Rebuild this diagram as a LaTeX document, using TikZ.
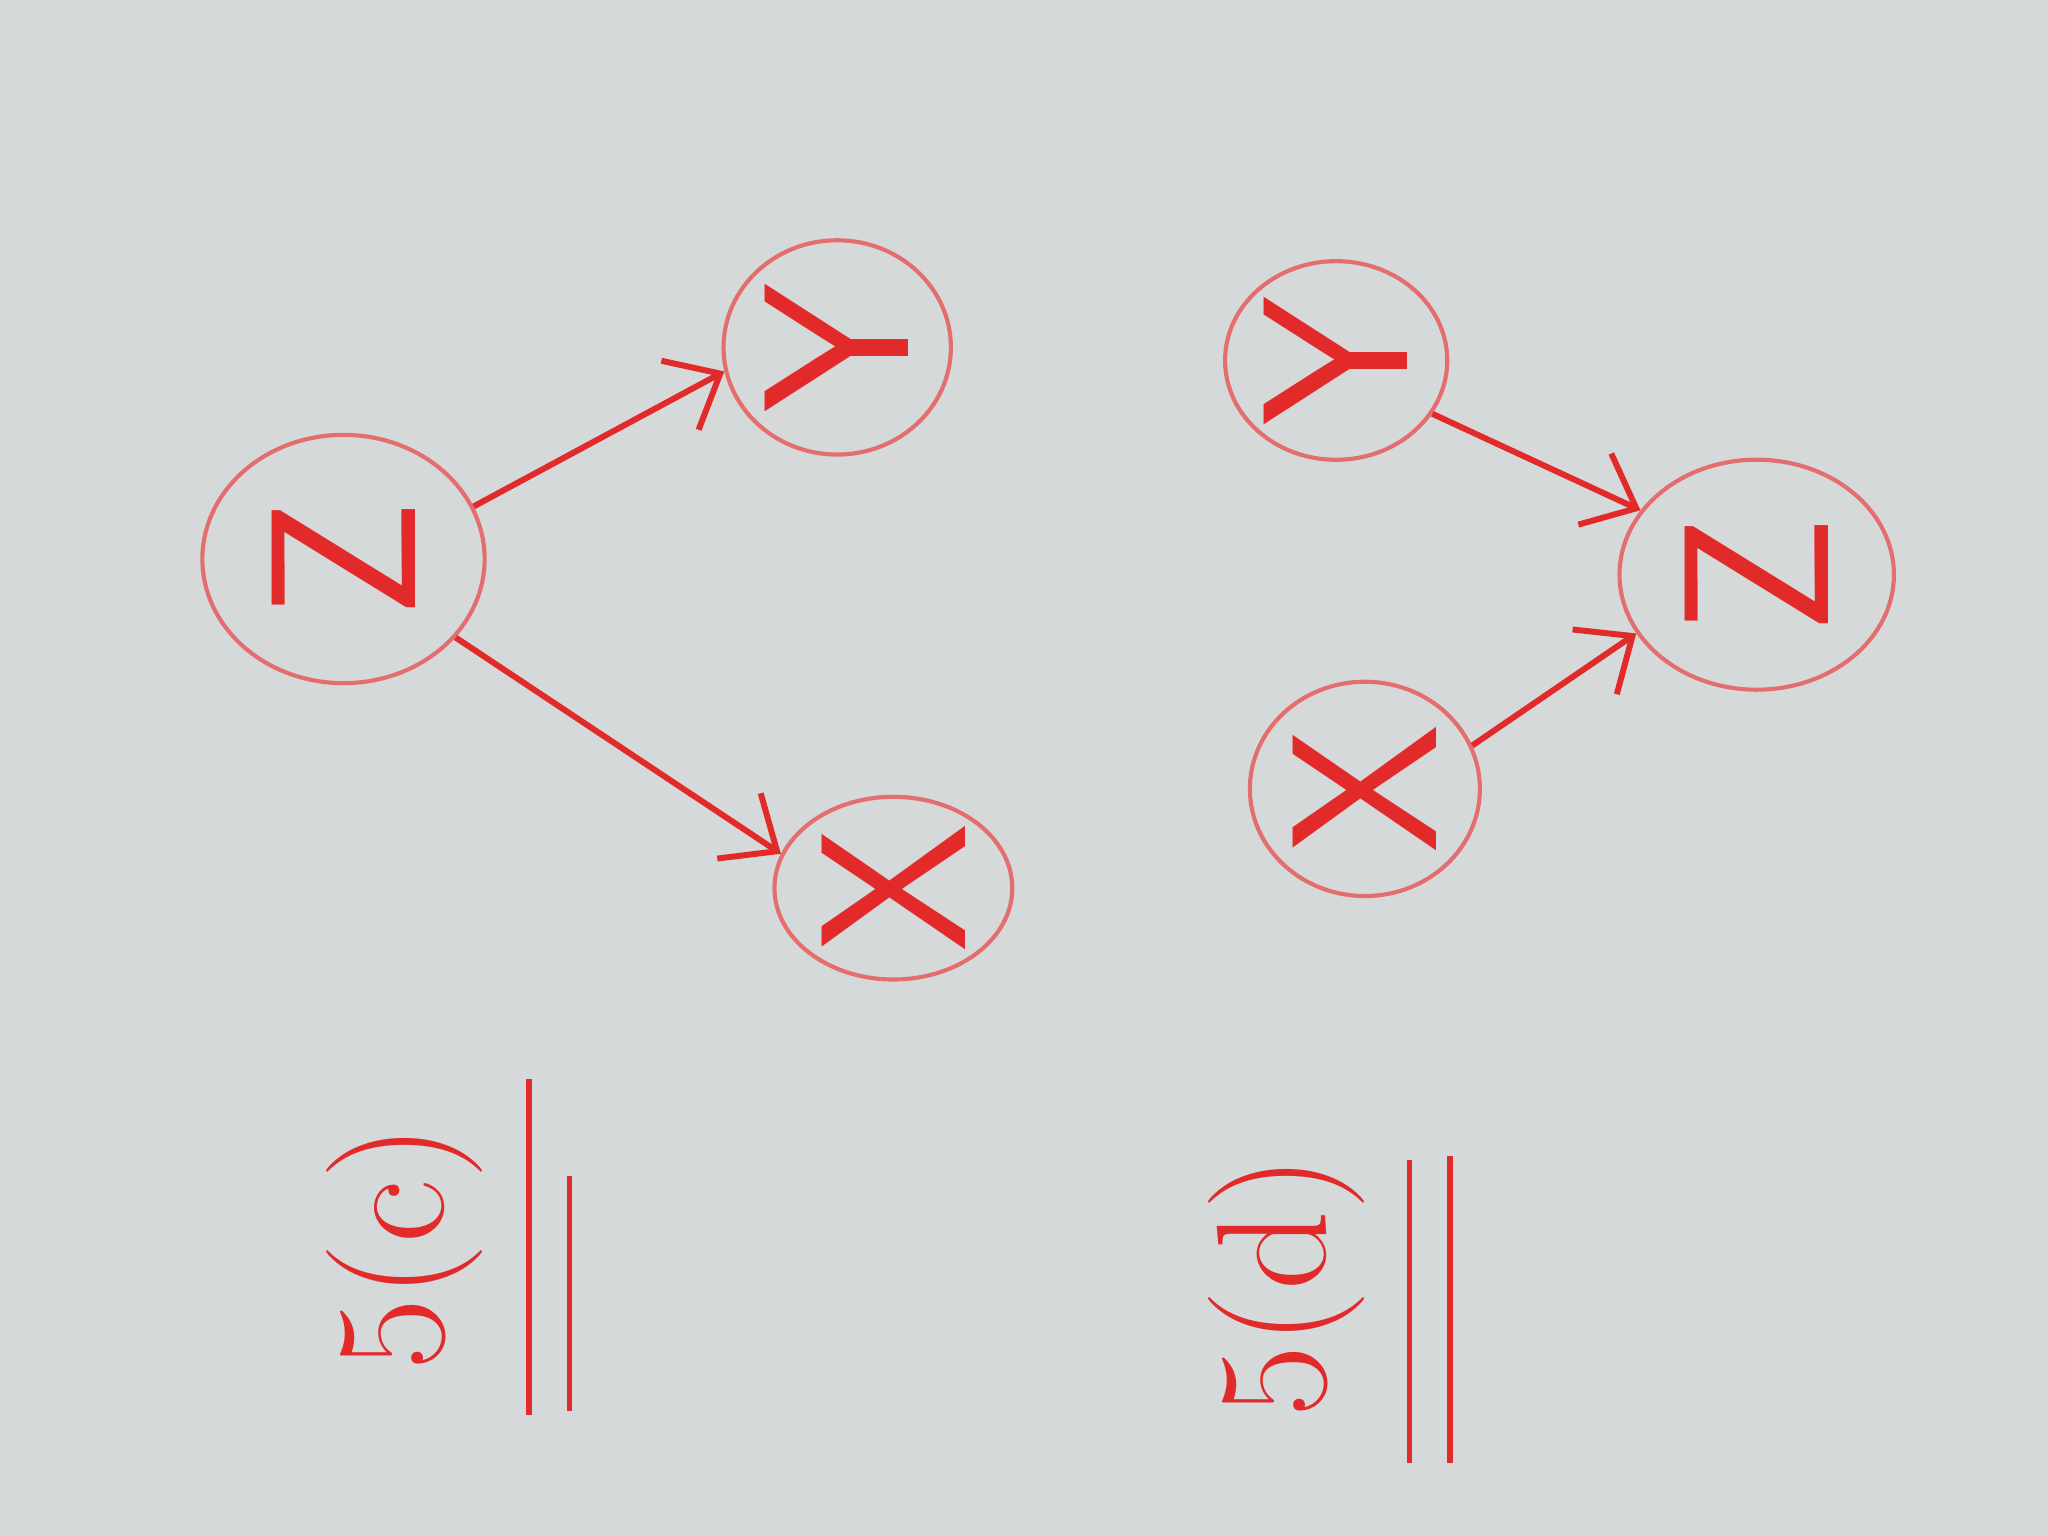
\documentclass[tikz,border=0pt]{standalone}
\usetikzlibrary{shapes.geometric,arrows.meta}
\definecolor{board}{RGB}{214,217,217}
\definecolor{marker}{RGB}{226,42,42}
\definecolor{ring}{RGB}{228,110,110}
\begin{document}
\begin{tikzpicture}[x=0.01cm,y=-0.01cm,
    var/.style={ellipse,draw=ring,line width=0.9pt,inner sep=0pt,text=marker,
      font=\sffamily\fontsize{45}{50}\selectfont},
    edge/.style={draw=marker,line width=1.3pt,
      -{Straight Barb[length=0.35cm,width=0.6cm]}},
    part/.style={rotate=90,text=marker,font=\fontsize{34}{40}\selectfont},
    uline/.style={draw=marker,line width=1.2pt}]
  \fill[board] (0,0) rectangle (1568,1176);

  \node[var,minimum width=2.16cm,minimum height=1.9cm] (zl) at (263,428) {\rotatebox{90}{Z}};
  \node[var,minimum width=1.74cm,minimum height=1.64cm] (yl) at (641,266) {\rotatebox{90}{Y}};
  \node[var,minimum width=1.82cm,minimum height=1.36cm] (xl) at (684,680) {\rotatebox{90}{X}};
  \draw[edge] (zl.22) -- (yl.192);
  \draw[edge] (zl.-35) -- (xl.163);

  \node[var,minimum width=1.7cm,minimum height=1.52cm] (yr) at (1023,276) {\rotatebox{90}{Y}};
  \node[var,minimum width=2.1cm,minimum height=1.76cm] (zr) at (1345,440) {\rotatebox{90}{Z}};
  \node[var,minimum width=1.76cm,minimum height=1.64cm] (xr) at (1045,604) {\rotatebox{90}{X}};
  \draw[edge] (yr.-29) -- (zr.151);
  \draw[edge] (xr.22) -- (zr.206);

  \node[part] (pc) at (310,955) {5(c)};
  \draw[uline] (405,826) -- (405,1083);
  \draw[uline] (436,900) -- (436,1080);

  \node[part] (pd) at (985,985) {5(d)};
  \draw[uline] (1079,888) -- (1079,1120);
  \draw[uline] (1110,885) -- (1110,1120);
\end{tikzpicture}
\end{document}
